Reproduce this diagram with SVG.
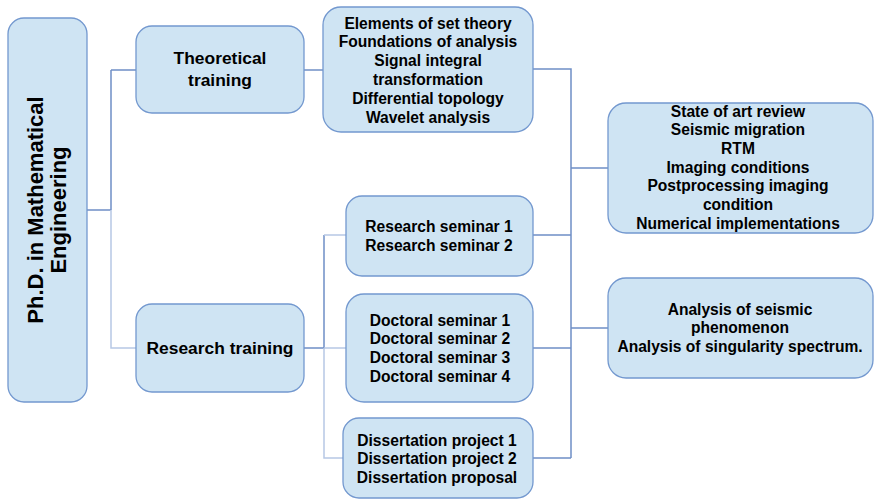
<svg xmlns="http://www.w3.org/2000/svg" width="875" height="499" viewBox="0 0 875 499">
<style>
.box{fill:#cfe4f3;stroke:#7398cf;stroke-width:1.3}
.t{font-family:"Liberation Sans",Arial,sans-serif;font-weight:bold;fill:#000;text-anchor:middle;font-size:15.6px}
.big{font-size:17.4px}
.main{font-size:22px}
.c{fill:none;stroke:#6f8fc6;stroke-width:1.5}
.cl{fill:none;stroke:#b7c8e5;stroke-width:1.5}
</style>
<rect width="875" height="499" fill="#ffffff"/>
<g id="connectors">
<path class="c" d="M87 210H111M111 70V210M111 70H136"/>
<path class="cl" d="M111 210V348H136"/>
<path class="c" d="M304 70H323"/>
<path class="c" d="M533 69H571V458M533 235H571M533 348H571M533 458H571M571 168H608M571 328H608"/>
<path class="c" d="M304 348H324V235"/>
<path class="cl" d="M324 235H346M324 348H346M324 348V458H343"/>
</g>
<g id="phd">
<rect class="box" x="8" y="18" width="79" height="384" rx="16"/>
<g transform="translate(0,210) rotate(-90)">
<text class="t main" x="0" y="43">Ph.D. in Mathematical</text>
<text class="t main" x="0" y="66">Engineering</text>
</g>
</g>
<g id="theoretical">
<rect class="box" x="136" y="26" width="168" height="87" rx="16"/>
<text class="t big" x="220" y="64">Theoretical</text>
<text class="t big" x="220" y="86">training</text>
</g>
<g id="research">
<rect class="box" x="136" y="304" width="168" height="88" rx="16"/>
<text class="t big" x="220" y="354">Research training</text>
</g>
<g id="courses">
<rect class="box" x="323" y="7" width="210" height="125" rx="18"/>
<text class="t" x="428" y="28.5">Elements of set theory</text>
<text class="t" x="428" y="47.3">Foundations of analysis</text>
<text class="t" x="428" y="66.1">Signal integral</text>
<text class="t" x="428" y="84.9">transformation</text>
<text class="t" x="428" y="103.7">Differential topology</text>
<text class="t" x="428" y="122.5">Wavelet analysis</text>
</g>
<g id="state">
<rect class="box" x="608" y="103" width="265" height="130" rx="18"/>
<text class="t" x="738" y="116.5">State of art review</text>
<text class="t" x="738" y="135.2">Seismic migration</text>
<text class="t" x="738" y="153.9">RTM</text>
<text class="t" x="738" y="172.6">Imaging conditions</text>
<text class="t" x="738" y="191.3">Postprocessing imaging</text>
<text class="t" x="738" y="210">condition</text>
<text class="t" x="738" y="228.7">Numerical implementations</text>
</g>
<g id="analysis">
<rect class="box" x="608" y="278" width="265" height="100" rx="18"/>
<text class="t" x="740" y="314.5">Analysis of seismic</text>
<text class="t" x="740" y="333.3">phenomenon</text>
<text class="t" x="740" y="352">Analysis of singularity spectrum.</text>
</g>
<g id="rseminar">
<rect class="box" x="346" y="196" width="187" height="80" rx="16"/>
<text class="t" x="439" y="232">Research seminar 1</text>
<text class="t" x="439" y="250.5">Research seminar 2</text>
</g>
<g id="dseminar">
<rect class="box" x="346" y="294" width="187" height="108" rx="18"/>
<text class="t" x="440" y="325.5">Doctoral seminar 1</text>
<text class="t" x="440" y="344.2">Doctoral seminar 2</text>
<text class="t" x="440" y="362.9">Doctoral seminar 3</text>
<text class="t" x="440" y="381.6">Doctoral seminar 4</text>
</g>
<g id="dissertation">
<rect class="box" x="343" y="418" width="190" height="80" rx="16"/>
<text class="t" x="437" y="445.5">Dissertation project 1</text>
<text class="t" x="437" y="464.2">Dissertation project 2</text>
<text class="t" x="437" y="482.9">Dissertation proposal</text>
</g>
</svg>
